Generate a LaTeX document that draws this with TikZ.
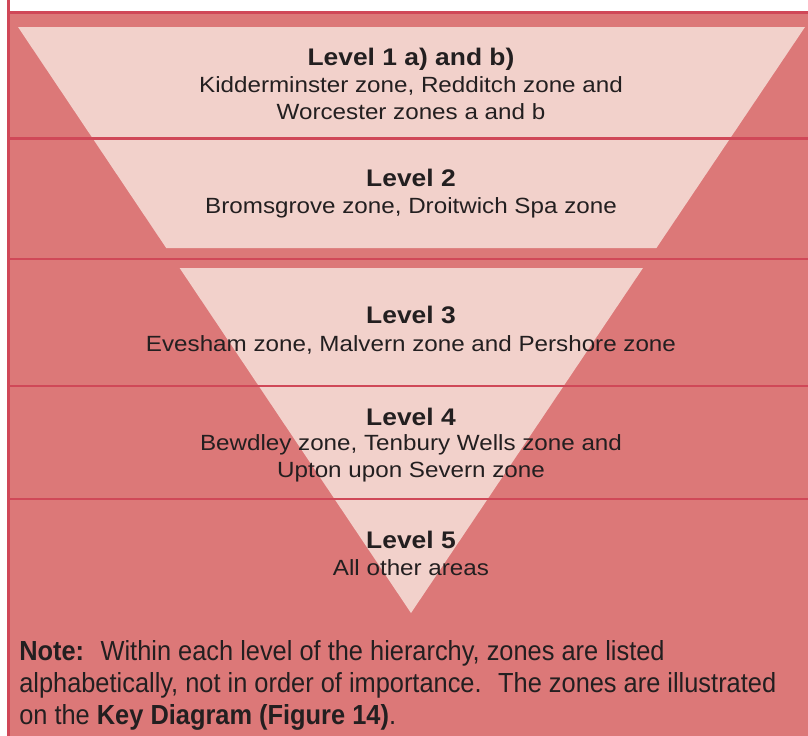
\documentclass[tikz,border=0pt]{standalone}
\usepackage{fontspec}
\setmainfont{Liberation Sans}
\newfontfamily\tierfont[FakeStretch=1.1]{Liberation Sans}
\newfontfamily\notefont[FakeStretch=0.92]{Liberation Sans}
\definecolor{zonered}{RGB}{220,120,120}
\definecolor{zonepink}{RGB}{242,209,203}
\definecolor{zoneline}{RGB}{208,72,88}
\definecolor{zonetext}{RGB}{35,31,32}

\begin{document}
\begin{tikzpicture}[
  x=0.75pt, y=-0.75pt,
  divider/.style={draw=zoneline, line width=1.6pt},
  tierhead/.style={anchor=base, inner sep=0pt, text=zonetext,
    font=\tierfont\fontsize{18}{20}\selectfont\bfseries},
  tierbody/.style={anchor=base, inner sep=0pt, text=zonetext, align=center,
    font=\tierfont\fontsize{16.5}{20.25}\selectfont},
  notetext/.style={anchor=base west, inner sep=0pt, text=zonetext, align=left,
    font=\notefont\fontsize{20.7}{24}\selectfont}
  ]
\useasboundingbox (0,0) rectangle (808,736);
\fill[zonered] (8.5,12.5) rectangle (808,736);
% the inverted triangle, cut by the band under level 2
\begin{scope}
  \clip (9,27) rectangle (808,248) (9,268) rectangle (808,613);
  \fill[zonepink] (18,27) -- (805,27) -- (411,613) -- cycle;
\end{scope}
\foreach \y in {12.5,138.5,259,386,499}
  \draw[divider] (8.5,\y) -- (808,\y);
\draw[divider] (8.5,0) -- (8.5,736);

% multi-line nodes sit on the baseline of their last line
\node[tierhead] (head1) at (411,65.7) {Level 1 a) and b)};
\node[tierbody] (body1) at (411,119) {Kidderminster zone, Redditch zone and\\Worcester zones a and b};
\node[tierhead] (head2) at (411,186.7) {Level 2};
\node[tierbody] (body2) at (411,213) {Bromsgrove zone, Droitwich Spa zone};
\node[tierhead] (head3) at (411,323.3) {Level 3};
\node[tierbody] (body3) at (411,351.7) {Evesham zone, Malvern zone and Pershore zone};
\node[tierhead] (head4) at (411,425) {Level 4};
\node[tierbody] (body4) at (411,477) {Bewdley zone, Tenbury Wells zone and\\Upton upon Severn zone};
\node[tierhead] (head5) at (411,548.3) {Level 5};
\node[tierbody] (body5) at (411,575) {All other areas};

\node[notetext] (note) at (19,724) {\textbf{Note:}~ Within each level of the hierarchy, zones are listed\\
  alphabetically, not in order of importance.~ The zones are illustrated\\
  on the \textbf{Key Diagram (Figure 14)}.};
\end{tikzpicture}
\end{document}
